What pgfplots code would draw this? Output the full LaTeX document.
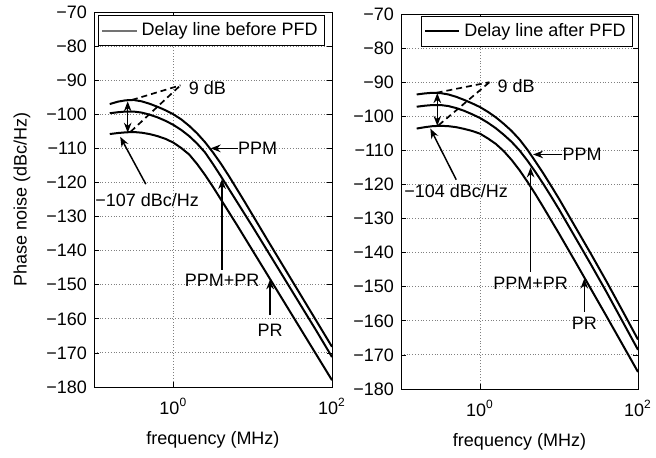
\documentclass[border=0pt]{standalone}
\usepackage{fontspec}
\setmainfont{Liberation Sans}
\usepackage{pgfplots}
\pgfplotsset{compat=1.18}
\usetikzlibrary{arrows.meta}

\tikzset{
  ann/.style={-{Stealth[length=5pt,width=3.8pt]}, line width=0.75pt},
  annb/.style={{Stealth[length=5pt,width=3.8pt]}-{Stealth[length=5pt,width=3.8pt]}, line width=0.75pt},
  dsh/.style={dash pattern=on 3pt off 2pt, line width=0.85pt},
  lab/.style={font=\fontsize{9}{10.5}\selectfont, inner sep=0pt},
}
\pgfplotsset{
  crv/.style={black, line width=1pt, mark=none, forget plot},
  every axis/.append style={
    scale only axis,
    height=187.5pt,
    xmin=0.1, xmax=100, ymin=-180, ymax=-70,
    xtick={1,100}, xticklabels={10\textsuperscript{0},10\textsuperscript{2}},
    xminorticks=false,
    ytick={-180,-170,...,-70},
    yticklabels={−180,−170,−160,−150,−140,−130,−120,−110,−100,−90,−80,−70},
    grid=major,
    major tick length=2.5pt,
    font=\fontsize{9}{10.5}\selectfont,
    xlabel={frequency (MHz)},
    legend cell align=left,
  },
  major grid style={densely dotted, gray, line width=0.45pt},
  every tick/.style={black, line width=0.4pt},
  xticklabel style={yshift=-2pt},
  xlabel style={at={(axis description cs:0.5,-0.141)}, anchor=center},
}

\begin{document}
\begin{tikzpicture}
\path[use as bounding box] (0,0) rectangle (328pt,228.5pt);

% ---------------- Left panel ----------------
\begin{semilogxaxis}[at={(47pt,35pt)}, anchor=south west, width=119pt,
  ylabel={Phase noise (dBc/Hz)},
  ylabel style={at={(axis description cs:-0.303,0.5)}, anchor=center},
  legend style={at={(0.971,0.992)}, anchor=north east, draw=black, line width=0.5pt,
    inner sep=1.5pt, font=\fontsize{9}{10.5}\selectfont},
]
\addlegendimage{black!55, line width=1pt}
\addlegendentry{Delay line before PFD}
% PPM (top)
\addplot[crv] coordinates {
(0.158,-97.0) (0.2,-96.3) (0.251,-95.9) (0.316,-95.8) (0.398,-96.2) (0.501,-96.9)
(0.631,-97.8) (0.794,-98.8) (1,-100.0) (1.259,-101.5) (1.585,-103.4) (1.995,-105.6)
(2.512,-108.2) (3.162,-111.2) (3.981,-114.5) (5.012,-118.1) (6.310,-121.9) (7.943,-125.7)
(10,-129.6) (15.85,-137.4) (25.12,-145.1) (39.81,-152.8) (63.10,-160.5) (100,-168.2)};
% PPM+PR (middle)
\addplot[crv] coordinates {
(0.158,-99.7) (0.2,-99.4) (0.251,-99.2) (0.316,-99.2) (0.398,-99.5) (0.501,-100.1)
(0.631,-100.9) (0.794,-101.9) (1,-103.1) (1.259,-104.6) (1.585,-106.4) (1.995,-108.6)
(2.512,-111.2) (3.162,-114.6) (3.981,-118.2) (5.012,-121.9) (6.310,-125.6) (7.943,-129.3)
(10,-133.0) (15.85,-140.6) (25.12,-148.2) (39.81,-155.8) (63.10,-163.4) (100,-171.2)};
% PR (bottom)
\addplot[crv] coordinates {
(0.158,-105.8) (0.2,-105.5) (0.251,-105.3) (0.316,-105.2) (0.398,-105.4) (0.501,-105.8)
(0.631,-106.4) (0.794,-107.2) (1,-108.3) (1.259,-109.9) (1.585,-111.8) (1.995,-114.6)
(2.512,-117.8) (3.162,-121.3) (3.981,-125.0) (5.012,-128.7) (6.310,-132.4) (7.943,-136.2)
(10,-140.0) (15.85,-147.6) (25.12,-155.2) (39.81,-162.8) (63.10,-170.4) (100,-178.0)};

\draw[dsh] (axis cs:0.30,-95.8) -- (axis cs:1.23,-91.5);
\draw[dsh] (axis cs:0.29,-105.1) -- (axis cs:1.23,-91.5);
\node[lab, anchor=west] at (axis cs:1.55,-92.3) {9 dB};
\draw[annb] (axis cs:0.266,-96.2) -- (axis cs:0.266,-105.4);
\draw[ann] (axis cs:0.45,-120.5) -- (axis cs:0.214,-106.6);
\node[lab] at (axis cs:0.468,-125.2) {−107 dBc/Hz};
\draw[ann] (axis cs:6.5,-110) -- (axis cs:2.95,-110);
\node[lab, anchor=west] at (axis cs:6.5,-110) {PPM};
\draw[ann] (axis cs:4.11,-145.6) -- (axis cs:4.11,-119.0);
\node[lab] at (axis cs:4.11,-148.8) {PPM+PR};
\draw[ann] (axis cs:16.6,-159.0) -- (axis cs:16.6,-148.4);
\node[lab] at (axis cs:16.6,-163.4) {PR};
\end{semilogxaxis}

% ---------------- Right panel ----------------
\begin{semilogxaxis}[at={(200.5pt,34pt)}, anchor=south west, width=118.5pt,
  legend style={at={(0.979,0.995)}, anchor=north east, draw=black, line width=0.5pt,
    inner sep=1.5pt, font=\fontsize{9}{10.5}\selectfont},
]
\addlegendimage{black, line width=1pt}
\addlegendentry{Delay line after PFD}
% PPM (top)
\addplot[crv] coordinates {
(0.158,-93.6) (0.2,-93.3) (0.251,-93.1) (0.316,-93.2) (0.398,-93.6) (0.501,-94.3)
(0.631,-95.2) (0.794,-96.2) (1,-97.3) (1.259,-98.7) (1.585,-100.3) (1.995,-102.2)
(2.512,-104.3) (3.162,-106.8) (3.981,-109.8) (5.012,-113.2) (6.310,-116.7) (7.943,-120.4)
(10,-124.2) (15.85,-132.2) (25.12,-140.2) (39.81,-148.4) (63.10,-156.9) (100,-165.5)};
% PPM+PR (middle)
\addplot[crv] coordinates {
(0.158,-97.2) (0.2,-96.9) (0.251,-96.7) (0.316,-96.7) (0.398,-97.0) (0.501,-97.6)
(0.631,-98.4) (0.794,-99.4) (1,-100.5) (1.259,-101.9) (1.585,-103.5) (1.995,-105.4)
(2.512,-107.5) (3.162,-110.0) (3.981,-113.0) (5.012,-116.3) (6.310,-119.8) (7.943,-123.5)
(10,-127.3) (15.85,-135.3) (25.12,-143.3) (39.81,-151.5) (63.10,-160.0) (100,-168.5)};
% PR (bottom)
\addplot[crv] coordinates {
(0.158,-103.6) (0.2,-103.2) (0.251,-102.9) (0.316,-102.8) (0.398,-102.9) (0.501,-103.2)
(0.631,-103.7) (0.794,-104.3) (1,-105.1) (1.259,-106.5) (1.585,-108.1) (1.995,-110.2)
(2.512,-112.8) (3.162,-115.8) (3.981,-119.2) (5.012,-122.8) (6.310,-126.6) (7.943,-130.5)
(10,-134.4) (15.85,-142.4) (25.12,-150.5) (39.81,-158.6) (63.10,-166.8) (100,-175.0)};

\draw[dsh] (axis cs:0.282,-93.1) -- (axis cs:1.32,-90.0);
\draw[dsh] (axis cs:0.30,-102.6) -- (axis cs:1.32,-90.0);
\node[lab, anchor=west] at (axis cs:1.65,-91.0) {9 dB};
\draw[annb] (axis cs:0.288,-93.2) -- (axis cs:0.288,-102.8);
\draw[ann] (axis cs:0.50,-118.6) -- (axis cs:0.235,-103.6);
\node[lab] at (axis cs:0.50,-121.9) {−104 dBc/Hz};
\draw[ann] (axis cs:11,-111.2) -- (axis cs:4.7,-111.2);
\node[lab, anchor=west] at (axis cs:11,-111.2) {PPM};
\draw[ann] (axis cs:4.37,-145.6) -- (axis cs:4.37,-115.0);
\node[lab] at (axis cs:4.37,-149.0) {PPM+PR};
\draw[ann] (axis cs:20.9,-157.3) -- (axis cs:20.9,-147.6);
\node[lab] at (axis cs:20.9,-160.6) {PR};
\end{semilogxaxis}
\end{tikzpicture}
\end{document}
